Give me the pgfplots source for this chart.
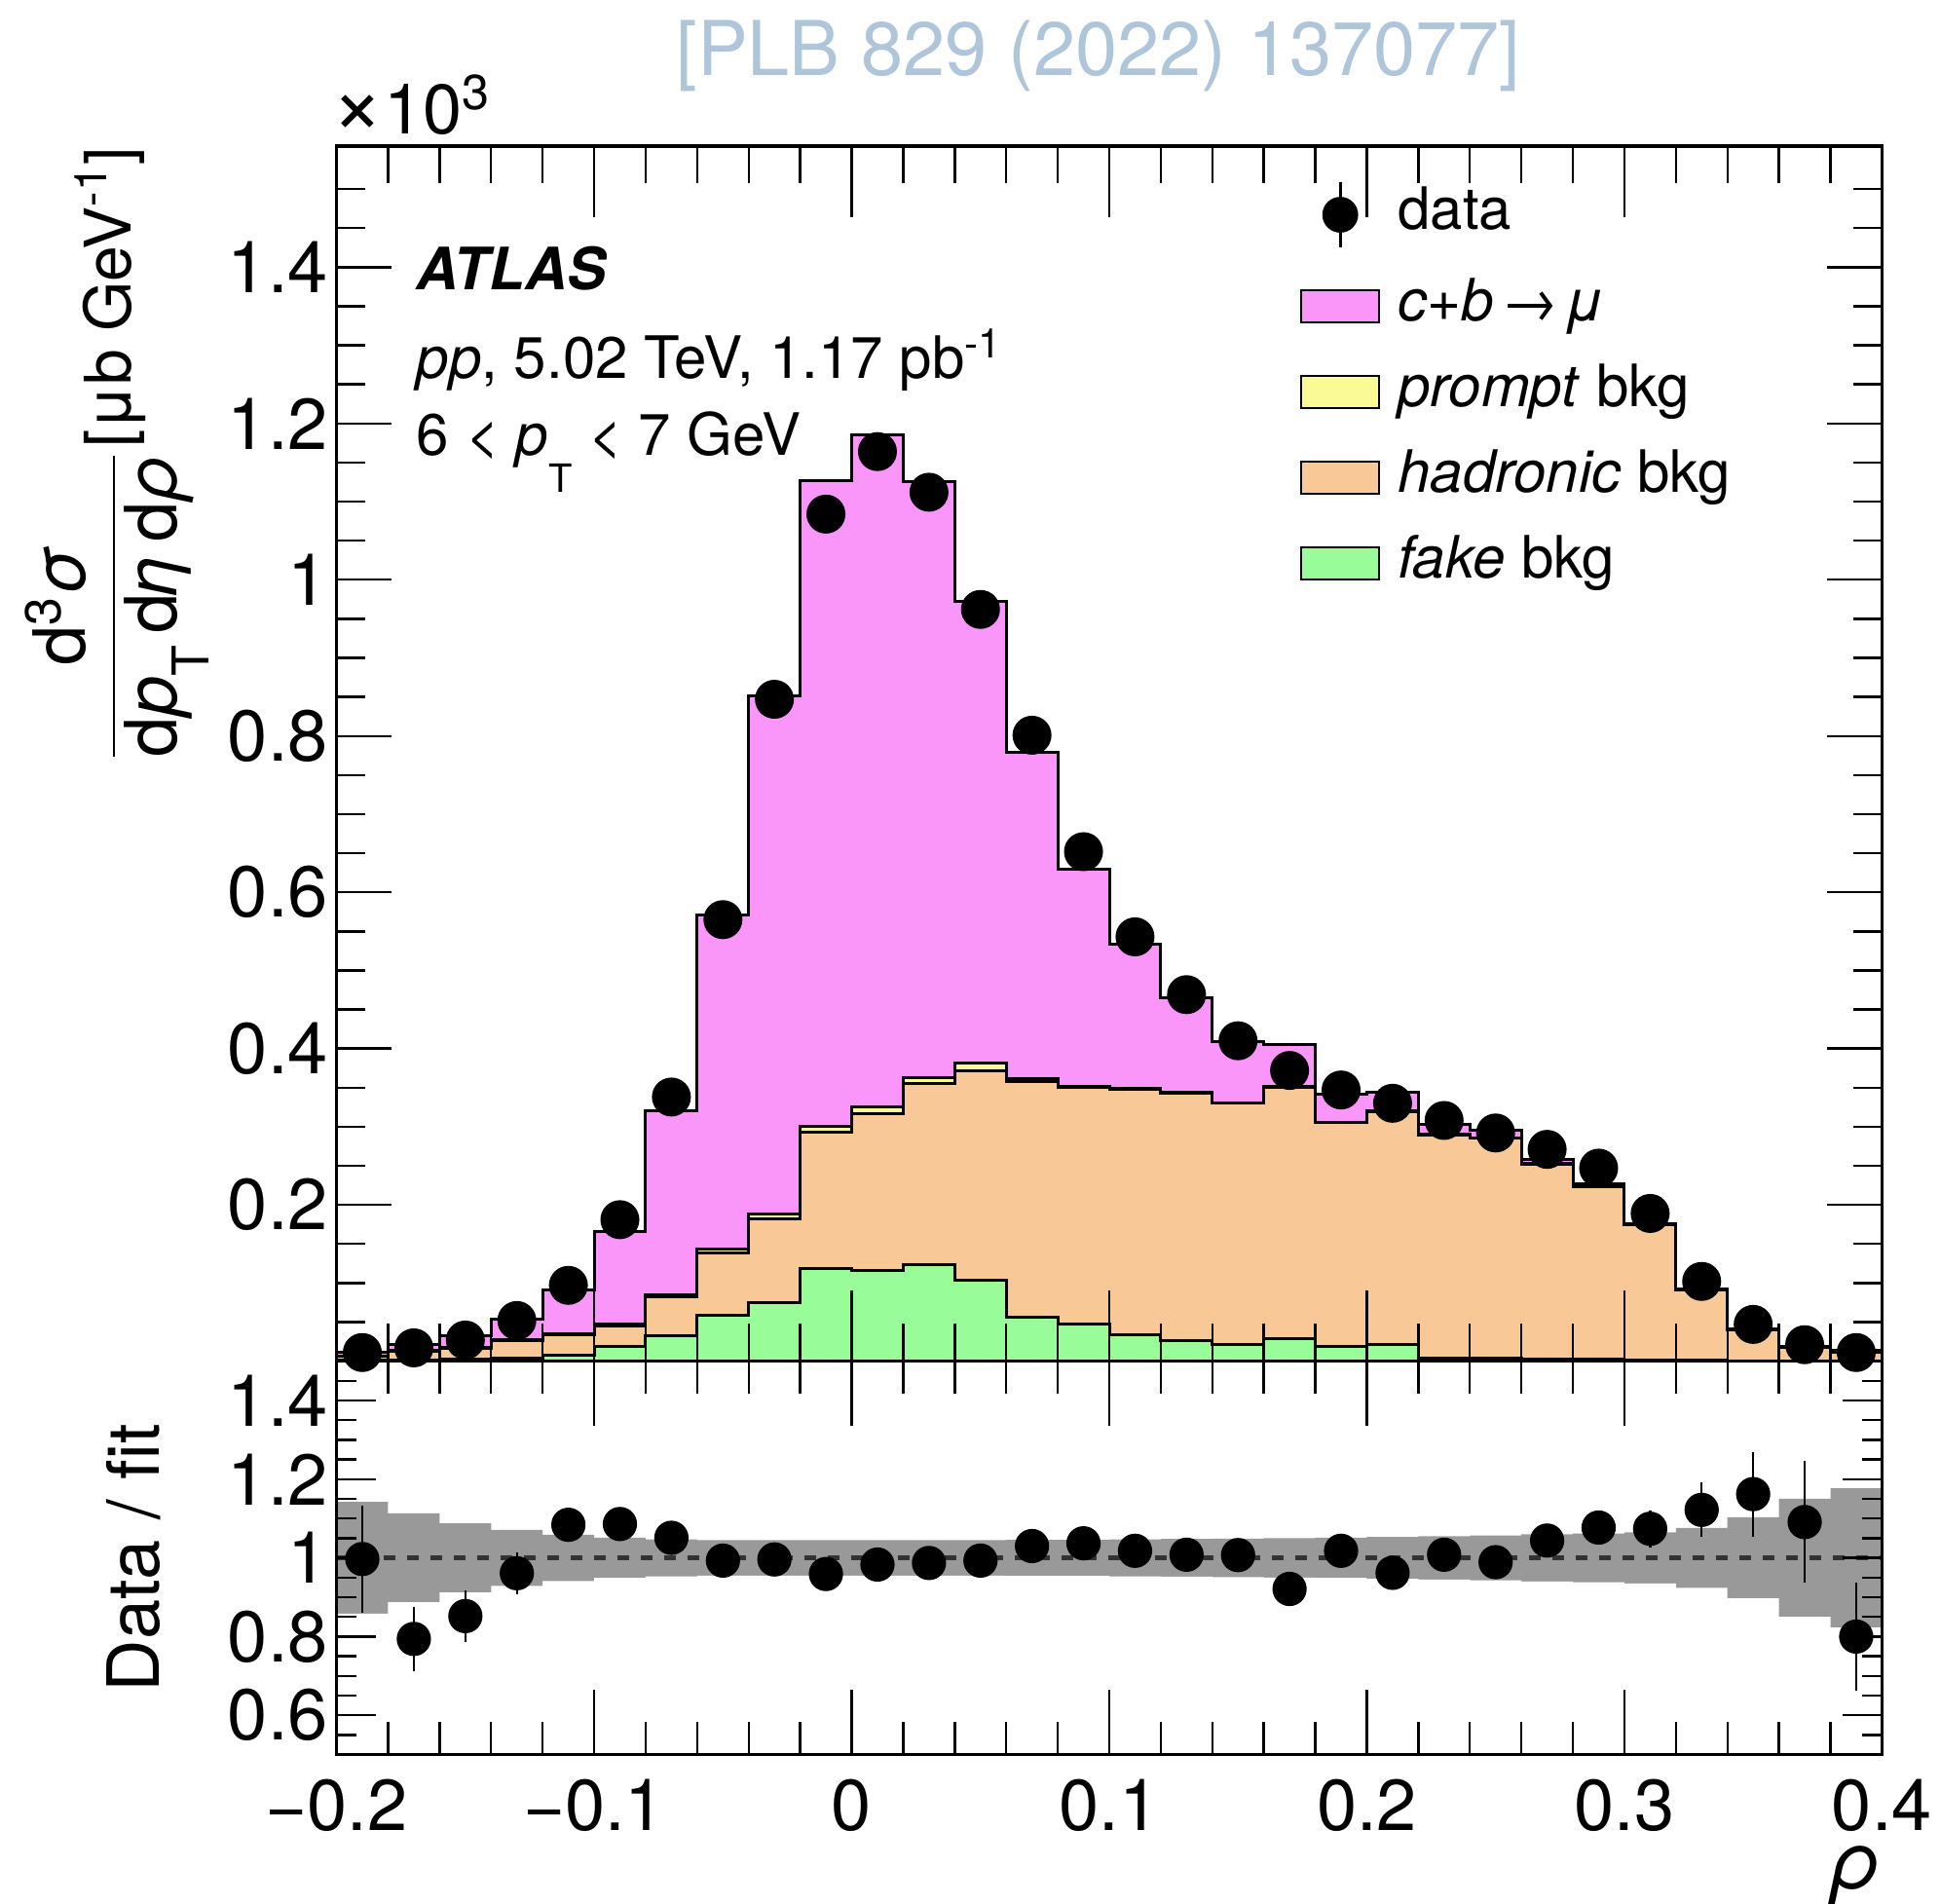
\documentclass[border=0pt]{standalone}
\usepackage{fontspec}
\setmainfont{TeX Gyre Heros}
\usepackage{amsmath}
\usepackage{pgfplots}
\usepackage{pgfplotstable}
\pgfplotsset{compat=1.18}

\definecolor{cbmu}{RGB}{250,150,250}
\definecolor{prompt}{RGB}{250,250,150}
\definecolor{hadr}{RGB}{248,200,150}
\definecolor{fake}{RGB}{152,252,152}
\definecolor{band}{RGB}{153,153,153}
\definecolor{ref}{RGB}{174,197,218}

% stacked histograms, cumulative tops, left bin edges (last row closes the range)
\pgfplotstableread{
x     tot    prm    had    fk
-0.20 0.011  0.0065 0.006  0.001
-0.18 0.021  0.0135 0.013  0.001
-0.16 0.032  0.017  0.016  0.002
-0.14 0.054  0.027  0.026  0.004
-0.12 0.091  0.035  0.034  0.0075
-0.10 0.166  0.047  0.045  0.019
-0.08 0.321  0.085  0.082  0.032
-0.06 0.571  0.143  0.139  0.059
-0.04 0.851  0.188  0.182  0.075
-0.02 1.127  0.300  0.293  0.119
0.00  1.186  0.326  0.317  0.116
0.02  1.126  0.363  0.355  0.124
0.04  0.972  0.381  0.372  0.104
0.06  0.779  0.362  0.358  0.056
0.08  0.630  0.352  0.350  0.048
0.10  0.534  0.349  0.348  0.034
0.12  0.465  0.344  0.343  0.026
0.14  0.409  0.331  0.330  0.021
0.16  0.405  0.351  0.350  0.029
0.18  0.341  0.306  0.305  0.019
0.20  0.344  0.320  0.319  0.021
0.22  0.303  0.290  0.289  0.004
0.24  0.296  0.286  0.285  0.004
0.26  0.258  0.253  0.252  0.002
0.28  0.227  0.224  0.223  0.002
0.30  0.176  0.175  0.174  0.001
0.32  0.092  0.091  0.091  0.001
0.34  0.041  0.040  0.040  0.000
0.36  0.019  0.017  0.017  0.000
0.38  0.0135 0.011  0.011  0.000
0.40  0.0135 0.011  0.011  0.000
}\stack

\pgfplotstableread{
x     y
-0.19 0.011
-0.17 0.017
-0.15 0.027
-0.13 0.052
-0.11 0.097
-0.09 0.181
-0.07 0.338
-0.05 0.565
-0.03 0.847
-0.01 1.084
0.01  1.164
0.03  1.112
0.05  0.962
0.07  0.801
0.09  0.652
0.11  0.543
0.13  0.469
0.15  0.410
0.17  0.372
0.19  0.347
0.21  0.330
0.23  0.308
0.25  0.292
0.27  0.271
0.29  0.247
0.31  0.189
0.33  0.102
0.35  0.047
0.37  0.021
0.39  0.011
}\data

\pgfplotstableread{
x     y     ey
-0.19 0.997 0.136
-0.17 0.794 0.082
-0.15 0.852 0.066
-0.13 0.961 0.053
-0.11 1.084 0.030
-0.09 1.086 0.028
-0.07 1.051 0.022
-0.05 0.993 0.018
-0.03 0.996 0.016
-0.01 0.959 0.015
0.01  0.983 0.015
0.03  0.987 0.015
0.05  0.993 0.016
0.07  1.030 0.017
0.09  1.037 0.018
0.11  1.018 0.019
0.13  1.008 0.020
0.15  1.007 0.021
0.17  0.921 0.022
0.19  1.018 0.023
0.21  0.962 0.024
0.23  1.008 0.025
0.25  0.989 0.027
0.27  1.044 0.030
0.29  1.077 0.035
0.31  1.074 0.047
0.33  1.122 0.069
0.35  1.162 0.108
0.37  1.091 0.155
0.39  0.800 0.138
}\ratio

% fit uncertainty band, left bin edges
\pgfplotstableread{
x     up    lo
-0.20 1.142 0.858
-0.18 1.113 0.887
-0.16 1.088 0.912
-0.14 1.071 0.929
-0.12 1.059 0.941
-0.10 1.051 0.949
-0.08 1.047 0.953
-0.06 1.045 0.955
-0.04 1.045 0.955
-0.02 1.045 0.955
0.00  1.045 0.955
0.02  1.045 0.955
0.04  1.045 0.955
0.06  1.046 0.954
0.08  1.046 0.954
0.10  1.047 0.953
0.12  1.048 0.952
0.14  1.049 0.951
0.16  1.050 0.950
0.18  1.051 0.949
0.20  1.053 0.947
0.22  1.055 0.945
0.24  1.057 0.943
0.26  1.060 0.940
0.28  1.062 0.938
0.30  1.065 0.935
0.32  1.076 0.924
0.34  1.103 0.897
0.36  1.150 0.850
0.38  1.177 0.823
0.40  1.177 0.823
}\band

\pgfplotsset{
  rootaxis/.style={
    scale only axis, width=396.7pt,
    xmin=-0.2, xmax=0.4,
    axis on top,
    axis line style={line width=0.9pt},
    tick align=inside,
    every tick/.style={black, line width=0.6pt},
    xtick={-0.2,-0.1,0,0.1,0.2,0.3,0.4}, minor x tick num=4,
    tick label style={font=\fontsize{18.5}{20}\selectfont},
    yticklabel style={inner xsep=2pt},
    xticklabel style={inner ysep=1pt, yshift=-5.2pt},
    /pgf/number format/assume math mode=true,
  },
}

\begin{document}
\begin{tikzpicture}

\begin{axis}[rootaxis,
  name=top, at={(0pt,0pt)}, anchor=north west,
  height=311.9pt,
  ymin=0, ymax=1.555,
  xticklabels={},
  ytick={0,0.2,0.4,0.6,0.8,1,1.2,1.4},
  yticklabels={,0.2,0.4,0.6,0.8,1,1.2,1.4},
  minor ytick={0.05,0.1,0.15,0.25,0.3,0.35,0.45,0.5,0.55,0.65,0.7,0.75,0.85,0.9,0.95,1.05,1.1,1.15,1.25,1.3,1.35,1.45,1.5},
  xtick style={/pgfplots/major tick length=18.2pt, /pgfplots/minor tick length=9.6pt},
  ytick style={/pgfplots/major tick length=14.2pt, /pgfplots/minor tick length=7.3pt},
  ylabel={{\nulldelimiterspace=0pt$\displaystyle\frac{\text{d\textsuperscript{3}\textit{σ}}}{\text{d\textit{p}\raisebox{-0.45em}{\fontsize{13}{13}\selectfont T}\,d\textit{η}\,d\textit{ρ}}}$}\hspace{2pt}{\fontsize{16.5}{20}\selectfont[μb GeV\textsuperscript{-1}]}},
  ylabel style={at={(axis description cs:-0.142,1)}, anchor=east, inner sep=0pt, font=\fontsize{18.5}{22}\selectfont},
  legend style={at={(axis description cs:0.623,0.972)}, anchor=north west,
    draw=none, fill=none, inner sep=0pt, row sep=7.5pt,
    font=\fontsize{15}{18}\selectfont,
    nodes={inner ysep=0pt, inner xsep=4.5pt, text height=11pt, text depth=3.5pt}},
  legend cell align=left,
]
\addlegendimage{legend image code/.code={
  \draw[black, line width=0.8pt] (10pt,-8.3pt) -- (10pt,8.3pt);
  \fill[black] (10pt,0pt) circle (4.4pt);}}
\addlegendentry{data}
\addlegendimage{legend image code/.code={\draw[fill=cbmu, draw=black, line width=0.6pt] (0pt,-4.1pt) rectangle (20pt,4.1pt);}}
\addlegendentry{\textit{c}+\textit{b}\hspace{1.5pt}→\hspace{1.5pt}\textit{μ}}
\addlegendimage{legend image code/.code={\draw[fill=prompt, draw=black, line width=0.6pt] (0pt,-4.1pt) rectangle (20pt,4.1pt);}}
\addlegendentry{\textit{prompt} bkg}
\addlegendimage{legend image code/.code={\draw[fill=hadr, draw=black, line width=0.6pt] (0pt,-4.1pt) rectangle (20pt,4.1pt);}}
\addlegendentry{\textit{hadronic} bkg}
\addlegendimage{legend image code/.code={\draw[fill=fake, draw=black, line width=0.6pt] (0pt,-4.1pt) rectangle (20pt,4.1pt);}}
\addlegendentry{\textit{fake} bkg}

\addplot[const plot, fill=cbmu, draw=black, line width=0.75pt, forget plot] table[x=x, y=tot]{\stack} \closedcycle;
\addplot[const plot, fill=prompt, draw=black, line width=0.75pt, forget plot] table[x=x, y=prm]{\stack} \closedcycle;
\addplot[const plot, fill=hadr, draw=black, line width=0.75pt, forget plot] table[x=x, y=had]{\stack} \closedcycle;
\addplot[const plot, fill=fake, draw=black, line width=0.75pt, forget plot] table[x=x, y=fk]{\stack} \closedcycle;
\addplot[only marks, mark=*, mark size=4.8pt, black, forget plot] table[x=x, y=y]{\data};

\node[anchor=base west, inner sep=0pt, font=\fontsize{15}{18}\selectfont\bfseries\itshape] at (axis description cs:0.0514,0.882) {ATLAS};
\node[anchor=base west, inner sep=0pt, font=\fontsize{15}{18}\selectfont] at (axis description cs:0.0514,0.8085) {\textit{pp}, 5.02 TeV, 1.17 pb\textsuperscript{-1}};
\node[anchor=base west, inner sep=0pt, font=\fontsize{15}{18}\selectfont] at (axis description cs:0.0514,0.7457) {6 < \textit{p}\raisebox{-9.5pt}{\fontsize{10}{10}\selectfont T} < 7 GeV};
\end{axis}

\begin{axis}[rootaxis,
  name=bot, at={(top.south west)}, anchor=north west,
  height=101pt,
  ymin=0.5, ymax=1.5,
  xticklabels={−0.2,−0.1,0,0.1,0.2,0.3,0.4},
  ytick={0.6,0.8,1,1.2,1.4},
  minor ytick={0.55,0.65,0.7,0.75,0.85,0.9,0.95,1.05,1.1,1.15,1.25,1.3,1.35,1.45},
  xtick style={/pgfplots/major tick length=16.7pt, /pgfplots/minor tick length=8.3pt},
  ytick style={/pgfplots/major tick length=10.2pt, /pgfplots/minor tick length=5.1pt},
  xlabel={\textit{ρ}},
  xlabel style={at={(axis description cs:1,0)}, anchor=base east, yshift=-34.5pt, inner sep=0pt, font=\fontsize{20.5}{24}\selectfont},
  ylabel={Data / fit},
  ylabel style={at={(axis description cs:-0.1316,0.5)}, anchor=center, font=\fontsize{18.5}{22}\selectfont},
]
% band: upper edge filled grey, lower edge filled white on top
\addplot[const plot, fill=band, draw=none] table[x=x, y=up]{\band} \closedcycle;
\addplot[const plot, fill=white, draw=none] table[x=x, y=lo]{\band} \closedcycle;
\addplot[dash pattern=on 3pt off 3pt, color=black!80, line width=1.1pt] coordinates {(-0.2,1) (0.4,1)};
\addplot[only marks, mark=*, mark size=4.2pt, black,
  error bars/.cd, y dir=both, y explicit,
  error mark=none, error bar style={line width=0.6pt, black}]
  table[x=x, y=y, y error=ey]{\ratio};
\end{axis}

\node[anchor=base west, inner sep=0pt, font=\fontsize{18}{20}\selectfont] at (-1.5pt,3.2pt) {{\fontsize{23}{23}\selectfont ×}10\textsuperscript{3}};
\node[anchor=center, inner sep=0pt, text=ref, font=\fontsize{19.4}{22}\selectfont] at (195.6pt,23.2pt) {[PLB 829 (2022) 137077]};

\pgfresetboundingbox
\path[use as bounding box] (-86.4pt,37.5pt) rectangle (411.6pt,-451.1pt);
\end{tikzpicture}
\end{document}
